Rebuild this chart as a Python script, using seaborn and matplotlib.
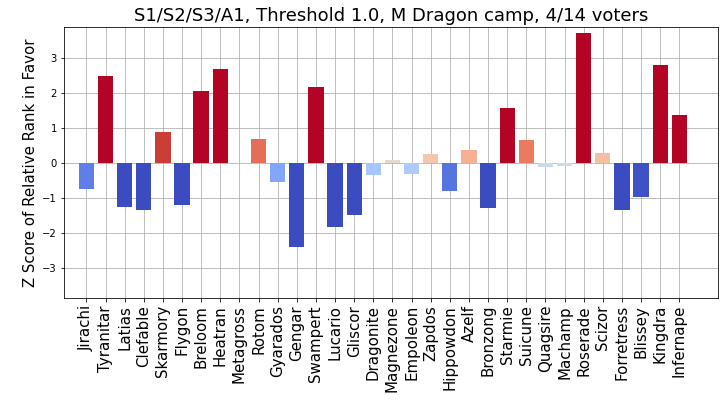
import matplotlib
matplotlib.use('Agg')
import matplotlib.pyplot as plt
import numpy as np
import seaborn as sns

# pokemon names and their z scores
names = ['Jirachi', 'Tyranitar', 'Latias', 'Clefable', 'Skarmory', 'Flygon', 'Breloom',
         'Heatran', 'Metagross', 'Rotom', 'Gyarados', 'Gengar', 'Swampert', 'Lucario',
         'Gliscor', 'Dragonite', 'Magnezone', 'Empoleon', 'Zapdos', 'Hippowdon', 'Azelf',
         'Bronzong', 'Starmie', 'Suicune', 'Quagsire', 'Machamp', 'Roserade', 'Scizor',
         'Forretress', 'Blissey', 'Kingdra', 'Infernape']
zscores = [-0.76, 2.49, -1.25, -1.36, 0.87, -1.21, 2.07,
           2.69, 0.0, 0.69, -0.56, -2.42, 2.18, -1.85,
           -1.48, -0.35, 0.07, -0.31, 0.24, -0.82, 0.38,
           -1.28, 1.58, 0.64, -0.13, -0.10, 3.73, 0.29,
           -1.35, -0.97, 2.81, 1.38]

title = 'S1/S2/S3/A1, Threshold 1.0, M Dragon camp, 4/14 voters'

# colour by value, clipped to -1..1
cmap = plt.get_cmap('coolwarm')
norm = plt.Normalize(-1, 1)
colors = [cmap(norm(v)) for v in zscores]

# figure drawn at 72 dpi
fig = plt.figure(figsize=(724 / 72, 405 / 72), dpi=72)
ax = fig.add_axes([64 / 724, 1 - 298 / 405, (718 - 64) / 724, (298 - 27) / 405])

sns.barplot(x=names, y=zscores, hue=names, palette=colors, legend=False,
            width=0.8, saturation=1, ax=ax, zorder=3)

ax.set_xlim(-1.17, 33.02)
ax.set_ylim(-3.87, 3.89)
ax.set_yticks([-3, -2, -1, 0, 1, 2, 3])
ax.grid(True, color='#b0b0b0', linewidth=0.8, zorder=0)
ax.set_axisbelow(True)
ax.tick_params(axis='x', labelsize=15, rotation=90)
ax.tick_params(axis='y', labelsize=10)
ax.set_xlabel('')
ax.set_ylabel('Z Score of Relative Rank in Favor', fontsize=15)
ax.set_title(title, fontsize=18)

fig.savefig('out.png', dpi=72)
